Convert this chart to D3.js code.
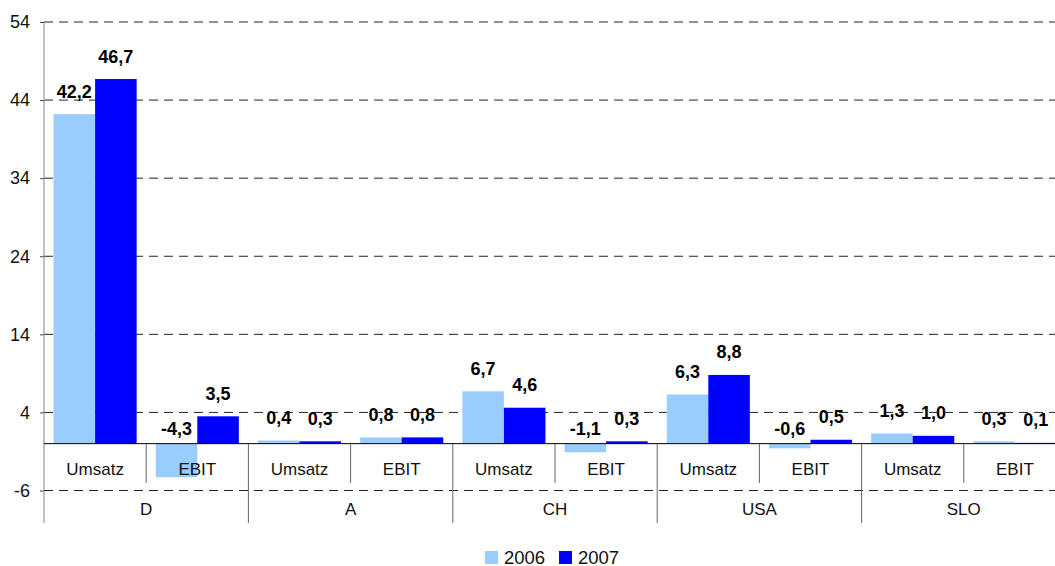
<!DOCTYPE html>
<html>
<head>
<meta charset="utf-8">
<script src="https://cdn.jsdelivr.net/npm/d3@7"></script>
<style>
  body { margin: 0; background: #fff; }
  svg { display: block; font-family: "Liberation Sans", Arial, sans-serif; }
</style>
</head>
<body>
<svg width="1055" height="566"></svg>
<script>
// data (Mio. EUR)
let countries = ['D', 'A', 'CH', 'USA', 'SLO'];
let measures = ['Umsatz', 'EBIT'];
let years = ['2006', '2007'];
let values2006 = [42.2, -4.3, 0.4, 0.8, 6.7, -1.1, 6.3, -0.6, 1.3, 0.3];
let values2007 = [46.7, 3.5, 0.3, 0.8, 4.6, 0.3, 8.8, 0.5, 1.0, 0.1];
let yTicks = [-6, 4, 14, 24, 34, 44, 54];

let colors = {'2006': '#99CCFF', '2007': '#0000FF'};

let plotLeft = 44, plotRight = 1066, plotTop = 22, plotBottom = 490.5;

let svg = d3.select('svg');

// one slot per country/measure pair
let slots = [];
countries.forEach(c => measures.forEach(m => slots.push(c + '|' + m)));

let rows = slots.map((s, i) => ({
    slot: s,
    country: s.split('|')[0],
    measure: s.split('|')[1],
    '2006': values2006[i],
    '2007': values2007[i]
}));

let x0 = d3.scaleBand().domain(slots).range([plotLeft, plotRight]).padding(0);
let x1 = d3.scaleBand().domain(years).range([0, x0.bandwidth()]).paddingInner(0).paddingOuter(0.23);
let xc = d3.scaleBand().domain(countries).range([plotLeft, plotRight]).padding(0);

let y = d3.scaleLinear().domain([-6, 54]).range([plotBottom, plotTop]);
let y0 = y(0);

// dashed grid
svg.append('g')
   .selectAll('line')
   .data(yTicks)
   .enter()
   .append('line')
   .attr('x1', plotLeft).attr('x2', plotRight)
   .attr('y1', d => y(d)).attr('y2', d => y(d))
   .attr('stroke', '#222')
   .attr('stroke-width', 1)
   .attr('stroke-dasharray', '9,6');

// y axis
let yAxis = d3.axisLeft(y).tickValues(yTicks).tickSize(4).tickPadding(10)
              .tickFormat(d => String(d));
let ya = svg.append('g')
   .attr('transform', 'translate(' + plotLeft + ',0)')
   .call(yAxis);
ya.select('.domain').remove();
ya.selectAll('.tick line').attr('stroke', '#444');
ya.selectAll('.tick text')
  .attr('font-size', 18)
  .attr('fill', '#111')
  .attr('font-family', '"Liberation Sans", Arial, sans-serif');

svg.append('line')
   .attr('x1', plotLeft).attr('x2', plotLeft)
   .attr('y1', plotTop).attr('y2', 523)
   .attr('stroke', '#808080');

// bars
let groups = svg.append('g')
   .selectAll('g')
   .data(rows)
   .enter()
   .append('g')
   .attr('transform', d => 'translate(' + x0(d.slot) + ',0)');

groups.selectAll('rect')
   .data(d => years.map(yr => ({year: yr, value: d[yr]})))
   .enter()
   .append('rect')
   .attr('x', d => x1(d.year))
   .attr('width', x1.bandwidth())
   .attr('y', d => Math.min(y(d.value), y0))
   .attr('height', d => Math.abs(y(d.value) - y0))
   .attr('fill', d => colors[d.year]);

// zero line
svg.append('line')
   .attr('x1', plotLeft).attr('x2', plotRight)
   .attr('y1', y0).attr('y2', y0)
   .attr('stroke', '#000');

// separators of the two-level category axis
svg.append('g')
   .selectAll('line')
   .data(slots.slice(1))
   .enter()
   .append('line')
   .attr('x1', d => x0(d)).attr('x2', d => x0(d))
   .attr('y1', y0)
   .attr('y2', d => d.endsWith('Umsatz') ? 523 : 483)
   .attr('stroke', '#666');

svg.append('g')
   .selectAll('text')
   .data(rows)
   .enter()
   .append('text')
   .attr('x', d => x0(d.slot) + x0.bandwidth() / 2)
   .attr('y', 475)
   .attr('text-anchor', 'middle')
   .attr('font-size', 17)
   .attr('fill', '#111')
   .text(d => d.measure);

svg.append('g')
   .selectAll('text')
   .data(countries)
   .enter()
   .append('text')
   .attr('x', d => xc(d) + xc.bandwidth() / 2)
   .attr('y', 515)
   .attr('text-anchor', 'middle')
   .attr('font-size', 17)
   .attr('fill', '#111')
   .text(d => d);

// value labels
let fmt = v => d3.format('.1f')(v).replace('.', ',').replace('−', '-');
groups.selectAll('text')
   .data(d => years.map(yr => ({year: yr, value: d[yr]})))
   .enter()
   .append('text')
   .attr('x', d => x1(d.year) + x1.bandwidth() / 2)
   .attr('y', d => d.value >= 0 ? y(d.value) - 16.5 : y0 - 9)
   .attr('text-anchor', 'middle')
   .attr('font-size', 18)
   .attr('font-weight', 'bold')
   .text(d => fmt(d.value));

// legend
let legend = svg.append('g')
   .selectAll('g')
   .data(years)
   .enter()
   .append('g')
   .attr('transform', (d, i) => 'translate(' + (485 + i * 74) + ',551)');

legend.append('rect')
   .attr('width', 13).attr('height', 13)
   .attr('fill', d => colors[d]);

legend.append('text')
   .attr('x', 19)
   .attr('y', 12.5)
   .attr('font-size', 18.5)
   .attr('fill', '#111')
   .text(d => d);
</script>
</body>
</html>
